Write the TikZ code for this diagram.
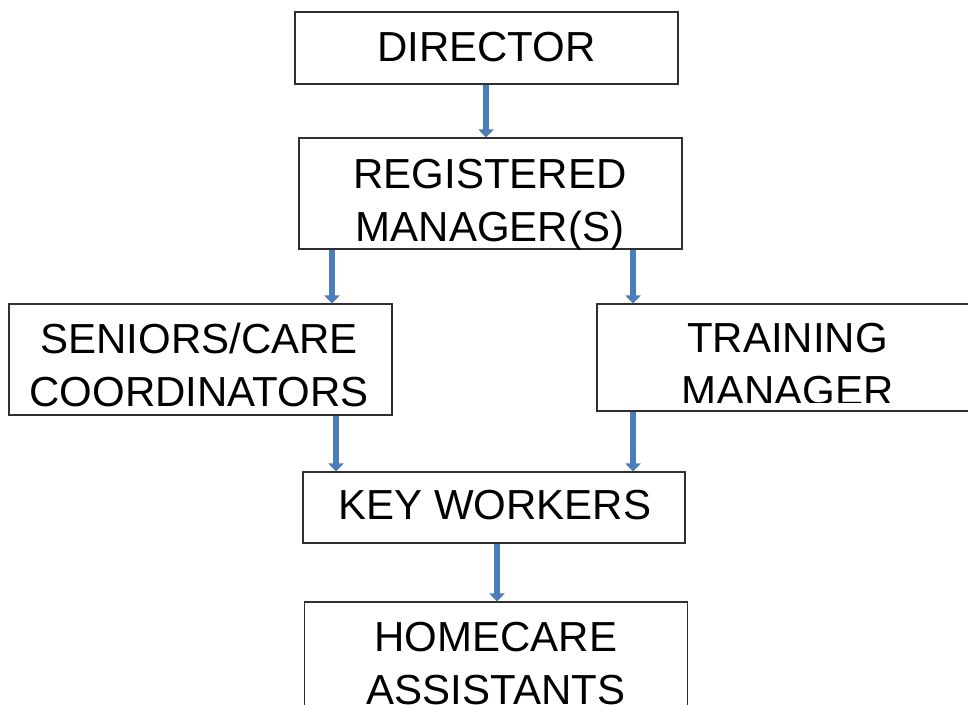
\documentclass[tikz,border=0pt]{standalone}
\usepackage{fontspec}
\setmainfont{Liberation Sans}
\usetikzlibrary{arrows.meta,calc}
\definecolor{arrblue}{HTML}{4A7EBB}
\definecolor{boxline}{HTML}{303030}
\begin{document}
\begin{tikzpicture}[x=1pt,y=-1pt,
  box/.style={draw=boxline,line width=1.1pt,minimum width=383pt,inner sep=0pt},
  txt/.style={font=\fontsize{42}{52.5}\selectfont,align=center,anchor=north,inner sep=0pt},
  arr/.style={draw=arrblue,line width=6pt,-{Triangle[width=15pt,length=8pt]}}]
\useasboundingbox (0,0) rectangle (968,704);

% boxes
\node[box,minimum height=72pt] (d) at (486.5,48) {};
\node[box,minimum height=111pt] (rm) at (490.5,193.5) {};
\node[box,minimum height=111pt] (s) at (200.5,359.5) {};
\node[box,minimum height=107pt] (t) at (788.5,357.5) {};
\node[box,minimum width=382pt,minimum height=71pt] (k) at (494,507.5) {};
\node[box,minimum height=111pt] (h) at (496,657.5) {};

% texts
\node[txt] (dt) at (486.5,32) {DIRECTOR};
\begin{scope}
  \clip (rm.north west) rectangle (rm.south east);
  \node[txt] (rmt) at (490,159) {REGISTERED\\MANAGER(S)};
\end{scope}
\node[txt] (st) at (199,323) {SENIORS/CARE\\COORDINATORS};
\begin{scope}
  \clip (t.north west) rectangle ($(t.south east)+(0,-9)$);
  \node[txt] (tt) at (787.5,323) {TRAINING\\MANAGER};
\end{scope}
\node[txt] (kt) at (495,490) {KEY WORKERS};
\node[txt] (ht) at (496,622) {HOMECARE\\ASSISTANTS};

% arrows
\draw[arr] (d.south -| 486,0) -- (rm.north -| 486,0);
\draw[arr] (rm.south -| 332,0) -- (s.north -| 332,0);
\draw[arr] (rm.south -| 633,0) -- (t.north -| 633,0);
\draw[arr] (s.south -| 336,0) -- (k.north -| 336,0);
\draw[arr] (t.south -| 633,0) -- (k.north -| 633,0);
\draw[arr] (k.south -| 497,0) -- (h.north -| 497,0);
\end{tikzpicture}
\end{document}
